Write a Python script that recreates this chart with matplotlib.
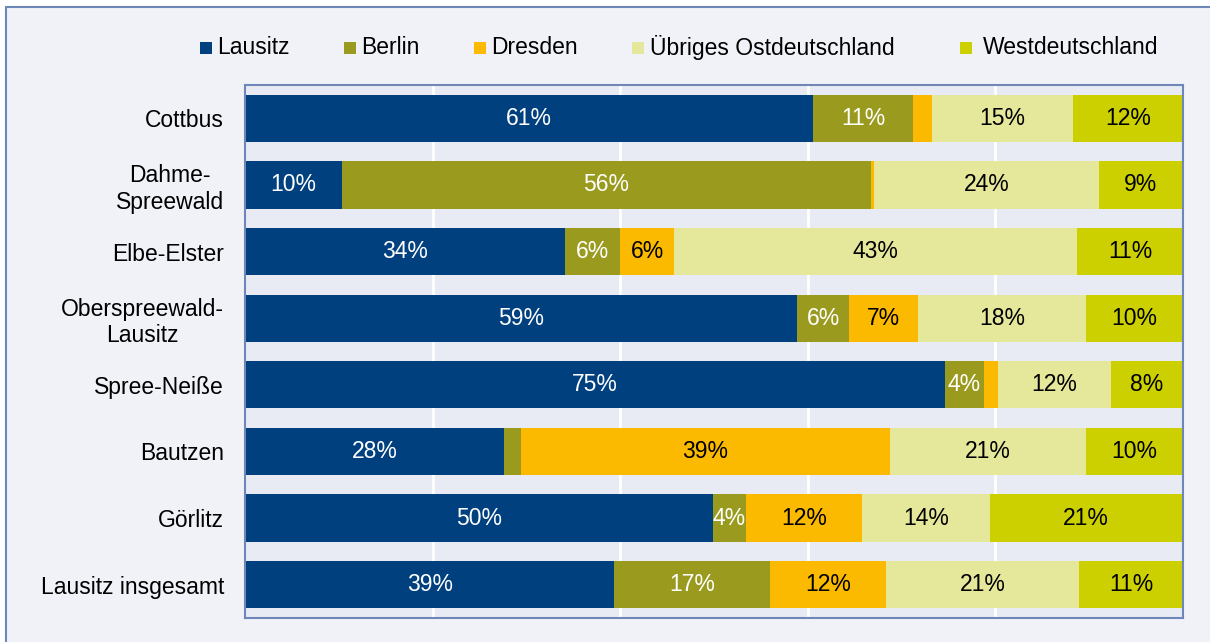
import numpy as np
import matplotlib.pyplot as plt
from matplotlib.patches import Rectangle

plt.rcParams["font.family"] = ["Liberation Sans", "DejaVu Sans"]

regions = ["Cottbus", "Dahme-\nSpreewald", "Elbe-Elster", "Oberspreewald-\nLausitz",
           "Spree-Neiße", "Bautzen", "Görlitz", "Lausitz insgesamt"]
series = ["Lausitz", "Berlin", "Dresden", "Übriges Ostdeutschland", "Westdeutschland"]

# shares in percent
lausitz = [60.6, 10.3, 34.2, 58.7, 74.6, 27.6, 49.8, 39.4]
berlin = [10.6, 56.4, 5.9, 5.6, 4.2, 1.9, 3.6, 16.6]
dresden = [2.0, 0.4, 5.7, 7.3, 1.5, 39.3, 12.3, 12.4]
uebriges = [15.1, 23.9, 43.1, 17.9, 12.0, 21.0, 13.6, 20.6]
west = [11.7, 9.0, 11.3, 10.3, 7.7, 10.3, 20.6, 11.1]

colors = ["#00407f", "#9a9a1e", "#fbb900", "#e5e79b", "#cccf00"]
text_colors = ["white", "white", "black", "black", "black"]
FS = 16.5

fig = plt.figure(figsize=(12.1, 6.42), dpi=100)
fig.patch.set_facecolor("white")
# outer frame (only left and top edges visible)
fig.patches.append(Rectangle((6 / 1210, -0.05), 1.1, 1 - 7 / 642 + 0.05,
                             transform=fig.transFigure, facecolor="#f0f2f8",
                             edgecolor="#6f86b8", linewidth=1.5, zorder=-10))

ax = fig.add_axes([245 / 1210, 1 - 618 / 642, 938 / 1210, 533 / 642])
ax.set_facecolor("#e8ebf3")

# 100% stacked: normalise each row
data = np.array([lausitz, berlin, dresden, uebriges, west], dtype=float)
shares = data / data.sum(axis=0) * 100

y = np.arange(len(regions))
left = np.zeros(len(regions))
for raw, vals, col, tcol in zip(data, shares, colors, text_colors):
    ax.barh(y, vals, left=left, height=0.71, color=col, zorder=2)
    for yi, l, v, r in zip(y, left, vals, raw):
        if r >= 3:
            ax.text(l + v / 2, yi, f"{round(r)}%", ha="center", va="center",
                    color=tcol, fontsize=FS, zorder=3)
    left += vals

ax.set_xlim(0, 100)
ax.set_ylim(len(regions) - 0.5, -0.5)
ax.set_xticks([20, 40, 60, 80])
ax.set_xticklabels([])
ax.tick_params(axis="x", length=0)
ax.grid(axis="x", color="white", linewidth=2, zorder=1)
ax.set_yticks(y)
ax.set_yticklabels(regions, fontsize=FS)
for lab in ax.get_yticklabels():
    lab.set_multialignment("center")
ax.tick_params(axis="y", length=0, pad=15)
for s in ax.spines.values():
    s.set_color("#6f86b8")
    s.set_linewidth(1.5)

# legend
leg_x = [200, 344, 474, 632, 960]
leg_tx = [217, 361, 491, 650, 983]
for sx, tx, name, col in zip(leg_x, leg_tx, series, colors):
    fig.patches.append(Rectangle((sx / 1210, 1 - 54 / 642), 12 / 1210, 12 / 642,
                                 transform=fig.transFigure, facecolor=col,
                                 edgecolor="none"))
    fig.text(tx / 1210, 1 - 48 / 642, name, fontsize=FS, va="center", ha="left")

fig.savefig("out.png", dpi=100)
